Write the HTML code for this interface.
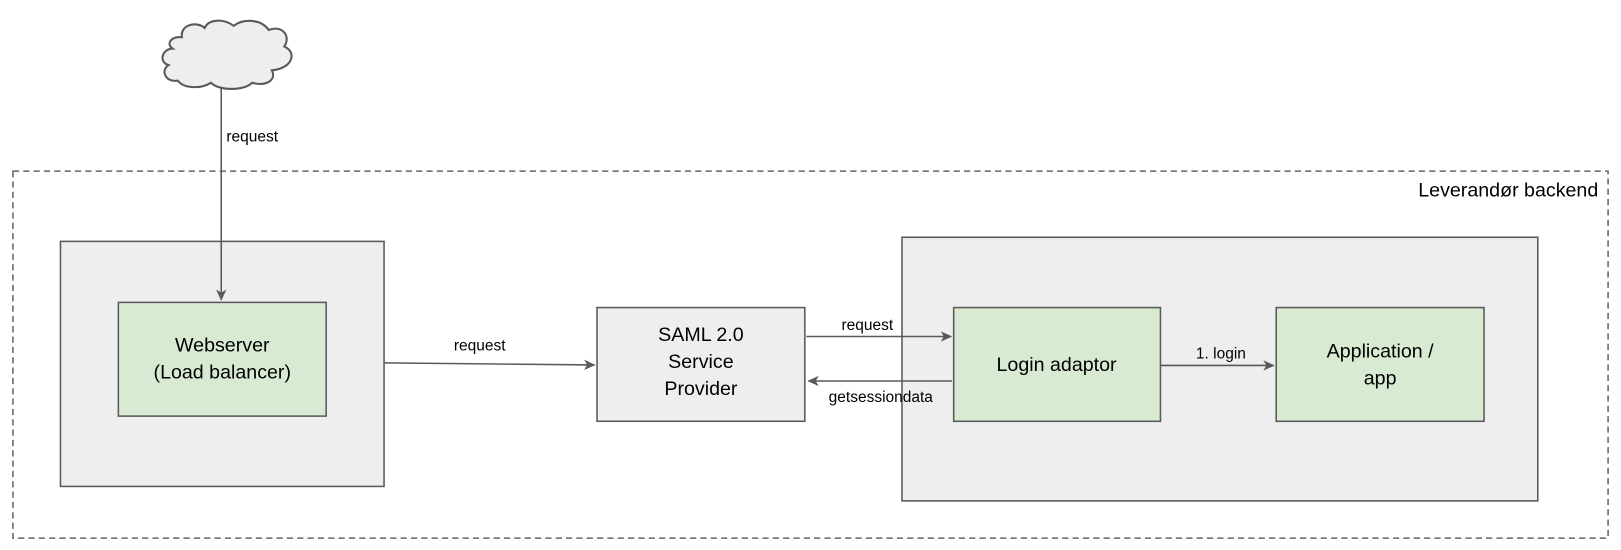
<!DOCTYPE html>
<html><head><meta charset="utf-8"><style>html,body{margin:0;padding:0;background:#fff}svg{display:block}text{font-family:"Liberation Sans",Arial,sans-serif;fill:#000}</style></head>
<body>
<svg width="1621" height="550" viewBox="0 0 1568 532" preserveAspectRatio="none" xmlns="http://www.w3.org/2000/svg">
<defs><marker id="a" markerWidth="12" markerHeight="10" refX="10" refY="5" orient="auto" markerUnits="userSpaceOnUse"><path d="M0,0 L11,5 L0,10 L3,5 Z" fill="#595959"/></marker></defs>
<rect x="12.5" y="165.5" width="1543" height="355" fill="none" stroke="#666" stroke-width="1.5" stroke-dasharray="6,4"/>
<text x="1546" y="190" font-size="19" text-anchor="end">Leverandør backend</text>
<path d="M167,47 C157,47 153,60 163,63 C155,68 160,80 172,78 C178,86 195,86 204,80 C212,88 236,88 244,80 C256,84 268,78 263,68 C284,66 287,50 275,45 C282,34 272,24 260,29 C252,18 235,18 226,25 C217,18 202,18 198,27 C190,20 174,24 176,36 C166,35 160,42 167,47 Z" fill="#eee" stroke="#595959" stroke-width="2"/>
<text x="219" y="137" font-size="15">request</text>
<rect x="58.5" y="233.5" width="313" height="237" fill="#eee" stroke="#595959" stroke-width="1.5"/>
<rect x="114.5" y="292.5" width="201" height="110" fill="#d9ead3" stroke="#595959" stroke-width="1.5"/>
<text x="215" y="340" font-size="19" text-anchor="middle">Webserver</text>
<text x="215" y="366" font-size="19" text-anchor="middle">(Load balancer)</text>
<line x1="214" y1="85" x2="214" y2="290" stroke="#595959" stroke-width="1.5" marker-end="url(#a)"/>
<rect x="577.5" y="297.5" width="201" height="110" fill="#eee" stroke="#595959" stroke-width="1.5"/>
<text x="678" y="330" font-size="19" text-anchor="middle">SAML 2.0</text>
<text x="678" y="356" font-size="19" text-anchor="middle">Service</text>
<text x="678" y="382" font-size="19" text-anchor="middle">Provider</text>
<rect x="872.5" y="229.5" width="615" height="255" fill="#eee" stroke="#595959" stroke-width="1.5"/>
<rect x="922.5" y="297.5" width="200" height="110" fill="#d9ead3" stroke="#595959" stroke-width="1.5"/>
<text x="1022" y="359" font-size="19" text-anchor="middle">Login adaptor</text>
<rect x="1234.5" y="297.5" width="201" height="110" fill="#d9ead3" stroke="#595959" stroke-width="1.5"/>
<text x="1335" y="346" font-size="19" text-anchor="middle">Application /</text>
<text x="1335" y="372" font-size="19" text-anchor="middle">app</text>
<line x1="372" y1="351" x2="575" y2="353" stroke="#595959" stroke-width="1.5" marker-end="url(#a)"/>
<text x="464" y="339" font-size="15" text-anchor="middle">request</text>
<line x1="780" y1="325.5" x2="920" y2="325.5" stroke="#595959" stroke-width="1.5" marker-end="url(#a)"/>
<text x="839" y="319" font-size="15" text-anchor="middle">request</text>
<line x1="921" y1="368.5" x2="782" y2="368.5" stroke="#595959" stroke-width="1.5" marker-end="url(#a)"/>
<text x="852" y="389" font-size="15" text-anchor="middle">getsessiondata</text>
<line x1="1123" y1="353.5" x2="1232" y2="353.5" stroke="#595959" stroke-width="1.5" marker-end="url(#a)"/>
<text x="1181" y="347" font-size="15" text-anchor="middle">1. login</text>
</svg>
</body></html>
